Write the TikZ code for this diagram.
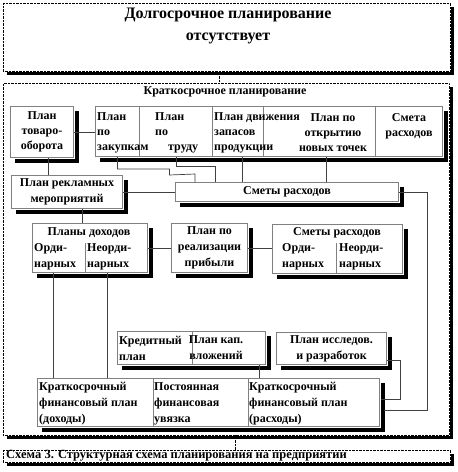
\documentclass[tikz,border=0pt]{standalone}
\usepackage{fontspec}
\setmainfont{Liberation Serif}
\usetikzlibrary{calc}

\begin{document}
\begin{tikzpicture}[x=1pt,y=-1pt,
    every node/.style={font=\bfseries\fontsize{12}{16}\selectfont, inner sep=0pt},
    frame/.style={draw, densely dotted, fill=white, anchor=north west},
    box/.style={draw=gray, line width=1pt, fill=white, anchor=north west},
    cellline/.style={draw=gray, line width=1pt},
    boxshadow/.style={fill=black, draw=none},
    link/.style={draw=black!75, line width=0.7pt},
    celltext/.style={align=left, anchor=west}]
    \useasboundingbox (0,0) rectangle (458,472);
    \begin{scope} % Outer frames
        \node[frame, minimum width=447pt, minimum height=68pt] (dolgo) at (3,3) {};
        \node[frame, minimum width=446pt, minimum height=352pt] (kratko) at (3,83) {};
        \node[frame, minimum width=447pt, minimum height=12pt] (shema) at (3,450) {};
        \foreach \f in {dolgo,kratko,shema} {
            \path[boxshadow] ($(\f.north east)+(0.5,4)$) rectangle ($(\f.south east)+(4,4)$);
            \path[boxshadow] ($(\f.south west)+(4,0.5)$) rectangle ($(\f.south east)+(4,4)$);
        }
        \draw[densely dotted] ([xshift=-7.5pt]dolgo.south) -- 
            ([xshift=-7.5pt]dolgo.south |- kratko.north);
        \draw[densely dotted] ([xshift=8.5pt]kratko.south) -- 
            ([xshift=8.5pt]kratko.south |- shema.north);
    \end{scope}
    \begin{scope} % Plan boxes
        \node[box, minimum width=63pt, minimum height=51pt, align=center,
            font=\bfseries\fontsize{12}{15}\selectfont] (tovar) 
            at (10,106) {План\\товаро-\\оборота};
        \node[box, minimum width=44pt, minimum height=50pt] (zakup) at (95,106) {};
        \node[box, minimum width=73pt, minimum height=50pt] (trud) at (139,106) {};
        \node[box, minimum width=51pt, minimum height=50pt] (dvizh) at (212,106) {};
        \node[box, minimum width=112pt, minimum height=50pt] (otkryt) at (263,106) {};
        \node[box, minimum width=67pt, minimum height=50pt] (smeta) at (375,106) {};
        \node[box, minimum width=111pt, minimum height=33pt, align=center] (reklama) 
            at (11,175) {План рекламных\\мероприятий};
        \node[box, minimum width=223pt, minimum height=19pt] (smety) 
            at (175,182) {Сметы расходов};
        \node[box, minimum width=115pt, minimum height=49pt] (dohody) at (32,223) {};
        \node[box, minimum width=76pt, minimum height=49pt, align=center] (realiz) 
            at (171,223) {План по\\реализации\\прибыли};
        \node[box, minimum width=130pt, minimum height=49pt] (rashody) at (272,224) {};
        \node[box, minimum width=148pt, minimum height=33pt] (kredit) at (117,331) {};
        \node[box, minimum width=110pt, minimum height=32pt, align=center] (issled) 
            at (276,332) {План исследов.\\и разработок};
        \node[box, minimum width=342pt, minimum height=48pt] (finans) at (37,378) {};
        % shadows
        \foreach \p/\q in {tovar/tovar,zakup/smeta,reklama/reklama,smety/smety,
            dohody/dohody,realiz/realiz,rashody/rashody,kredit/kredit,issled/issled,finans/finans} {
            \path[boxshadow] ($(\q.north east)+(0.5,5)$) rectangle ($(\q.south east)+(5,5)$);
            \path[boxshadow] ($(\p.south west)+(5,0.5)$) rectangle ($(\q.south east)+(5,5)$);
        }
        % cell dividers
        \draw[cellline] ([xshift=53pt]dohody.south west) -- ++(0,-30);
        \draw[cellline] ([xshift=64pt]rashody.south west) -- ++(0,-31);
        \draw[cellline] ([xshift=75pt]kredit.south west) -- ([xshift=75pt]kredit.north west);
        \draw[cellline] ([xshift=116pt]finans.south west) -- ([xshift=116pt]finans.north west);
        \draw[cellline] ([xshift=211pt]finans.south west) -- ([xshift=211pt]finans.north west);
    \end{scope}
    \begin{scope} % Links
        \draw[link] (tovar.east) -- (tovar.east -| zakup.west);
        \draw[link] ([xshift=6pt]tovar.south) -- ([xshift=6pt]tovar.south |- reklama.north);
        \draw[link] (zakup.south) -- ++(0,12) -- ++(52,0) -- ++(0,6) -- 
            ([xshift=20pt]smety.north west |- 0,174) -- ([xshift=20pt]smety.north west);
        \draw[link] (trud.south) -- ++(0,9) -| ([xshift=40pt]smety.north west);
        \draw[link] ([xshift=4pt]dvizh.south) -- ([xshift=4pt]dvizh.south |- smety.north);
        \draw[link] ([xshift=7pt]otkryt.south) -- ([xshift=7pt]otkryt.south |- smety.north);
        \draw[link] (reklama.east) -- (reklama.east -| smety.west);
        \draw[link] ([xshift=15pt]reklama.south) -- ([xshift=15pt]reklama.south |- dohody.north);
        \draw[link] (dohody.east) -- (dohody.east -| realiz.west);
        \draw[link] (realiz.east) -- (realiz.east -| rashody.west);
        \draw[link] (smety.east) -- ++(28,0) |- ([xshift=4pt,yshift=-8pt]finans.east);
        \draw[link] ([yshift=-12pt]issled.east) -- ++(13,0) |- ([xshift=1pt,yshift=3pt]finans.east);
        \draw[link] ([xshift=21pt]dohody.south west) -- ([xshift=21pt]dohody.south west |- finans.north);
        \draw[link] ([xshift=75pt]dohody.south west) -- ([xshift=75pt]dohody.south west |- finans.north);
        \draw[link] ([xshift=142pt]kredit.south west) -- ([xshift=142pt]kredit.south west |- finans.north);
    \end{scope}
    \begin{scope} % Texts
        \node[align=center, font=\bfseries\fontsize{16}{22}\selectfont] (dolgoT) 
            at (228,26) {Долгосрочное планирование\\отсутствует};
        \node (kratkoT) at (225,92) {Краткосрочное планирование};
        \node[celltext, font=\bfseries\fontsize{12.5}{16}\selectfont] (shemaT) 
            at (6,456) {Схема 3. Структурная схема планирования на предприятии};
        \begin{scope}[every node/.append style={font=\bfseries\fontsize{12}{15}\selectfont}]
        \node[celltext] (zakupT) at (97,133) {План\\по\\закупкам};
        \node[celltext] (trudT) at (155,133) {План\\по\\\hspace{13pt}труду};
        \node[celltext] (dvizhT) at (214,133) {План движения\\запасов\\продукции};
        \node[align=center] (otkrytT) at (333,133) {План по\\открытию\\новых точек};
        \node[align=center] (smetaT) at (409,126) {Смета\\расходов};
        \end{scope}
        \node (dohodyT) at (89,233) {Планы доходов};
        \node[celltext] (dohOrdT) at (34,257) {Орди-\\нарных};
        \node[celltext] (dohNeordT) at (87,257) {Неорди-\\нарных};
        \node (rashodyT) at (337,233) {Сметы расходов};
        \node[celltext] (rasOrdT) at (282,257) {Орди-\\нарных};
        \node[celltext] (rasNeordT) at (339,257) {Неорди-\\нарных};
        \node[celltext] (kreditT) at (119,348) {Кредитный\\план};
        \node[align=center] (kapvlT) at (216,348) {План кап.\\вложений};
        \node[celltext] (finDohT) at (39,404) {Краткосрочный\\финансовый план\\(доходы)};
        \node[celltext] (finUvT) at (154,404) {Постоянная\\финансовая\\увязка};
        \node[celltext] (finRasT) at (249,404) {Краткосрочный\\финансовый план\\(расходы)};
    \end{scope}
\end{tikzpicture}
\end{document}
